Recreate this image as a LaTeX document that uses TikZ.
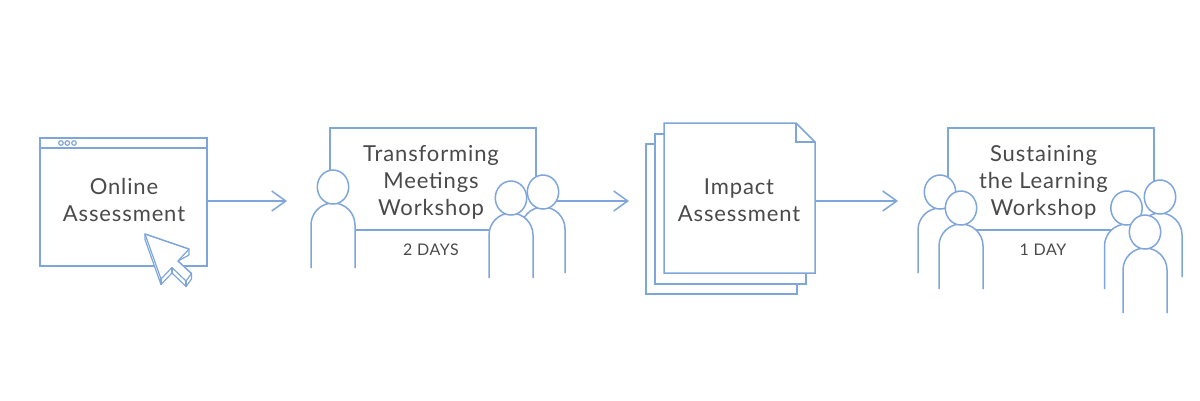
\documentclass[tikz,border=0pt]{standalone}
\usepackage{fontspec}
\setmainfont[LetterSpace=4]{Lato}
\usetikzlibrary{arrows.meta,calc}
\definecolor{lineblue}{HTML}{7FA6DA}
\definecolor{inkgrey}{HTML}{4A4A4A}
\tikzset{
  shape line/.style={draw=lineblue,line width=1.5pt,line join=miter},
  boxnode/.style={shape line,fill=white,rectangle,inner sep=0pt,outer sep=0pt},
  conn/.style={draw=lineblue,line width=1.5pt,-{Straight Barb[length=14pt,width=20pt,line width=1.5pt]}},
  title/.style={text=inkgrey,align=center,font=\fontsize{22}{27}\selectfont,inner sep=0pt},
  small/.style={text=inkgrey,align=center,font=\fontsize{16}{18}\selectfont,inner sep=0pt},
}
% person: head x, head y, body top, body bottom
\newcommand{\personfig}[4]{%
  \fill[white] (#1-22,#4) -- (#1-22,#3+22) arc[start angle=180,end angle=360,radius=22] -- (#1+22,#4) -- cycle;
  \draw[shape line] (#1-22,#4) -- (#1-22,#3+22) arc[start angle=180,end angle=360,radius=22] -- (#1+22,#4);
  \draw[shape line,fill=white] (#1,#2) ellipse[x radius=15.7,y radius=17];
}
\begin{document}
\begin{tikzpicture}[x=1pt,y=-1pt]
\useasboundingbox (0,0) rectangle (1200,400);
\fill[white] (0,0) rectangle (1200,400);

% Online assessment window
\node[boxnode,minimum width=167pt,minimum height=128pt] (window) at (123.5,202) {};
\draw[shape line] (40,148) -- (207,148);
\foreach \dx in {61,67.3,74}{\draw[draw=lineblue,line width=1.2pt] (\dx,143) circle[radius=2.3];}
\node[title] (windowtext) at (124,200) {Online\\Assessment};
\coordinate (a1) at (287,201);
\draw[conn] (window.east |- a1) -- (a1);
% cursor
\draw[shape line,line width=1.2pt,fill=white,line join=round]
  (145,234) -- (189,249) -- (189,255) -- (178,261) -- (191.5,273.5) -- (191.5,279) -- (186,286.5) -- (172,273) -- (161,284.5) -- (145,239.5) -- cycle;
\draw[shape line,line width=1.2pt,line join=round]
  (145,234) -- (189,249) -- (178,261) -- (191.5,273.5) -- (186,281) -- (172,267.5) -- (161,279) -- cycle;
\draw[shape line,line width=1.2pt] (186,281) -- (186,286.5) (172,267.5) -- (172,273) (161,279) -- (161,284.5);

% Transforming board
\node[boxnode,minimum width=206pt,minimum height=102pt] (boardA) at (433,179) {};
\node[title] (boardAtext) at (431,182) {Transforming\\Meetings\\Workshop};
\node[small] (daysA) at (431,250) {2 DAYS};
\coordinate (a2) at (629,201);
\coordinate (a2s) at (556,201);
\draw[conn] (a2s) -- (a2);
\personfig{333}{187}{203}{268}
\personfig{543}{192}{207}{273}
\personfig{511}{198}{213}{278}

% Impact assessment
\node[boxnode,minimum width=151pt,minimum height=150pt] (pageC) at (721.5,219) {};
\node[boxnode,minimum width=151pt,minimum height=150pt] (pageB) at (730.5,209) {};
\coordinate (f1) at (796,123);
\coordinate (f2) at (815,142);
\coordinate (f3) at (796,142);
\draw[shape line,fill=white] (664,123) -- (f1) -- (f2) -- (815,273) -- (664,273) -- cycle;
\draw[shape line] (f1) -- (f3) -- (f2);
\node[title] (impacttext) at (739,200) {Impact\\Assessment};
\coordinate (a3s) at (815,201);
\coordinate (a3) at (898,201);
\draw[conn] (a3s) -- (a3);

% Sustaining board
\node[boxnode,minimum width=206pt,minimum height=102pt] (boardB) at (1051,179) {};
\node[title] (boardBtext) at (1043.5,182) {Sustaining\\the Learning\\Workshop};
\node[small] (daysB) at (1043,250) {1 DAY};
\personfig{940}{192}{208}{273}
\personfig{961}{208}{224}{289}
\personfig{1160}{197}{213}{277}
\personfig{1126.5}{208}{224}{289}
\personfig{1145}{232}{248}{313}
\end{tikzpicture}
\end{document}
